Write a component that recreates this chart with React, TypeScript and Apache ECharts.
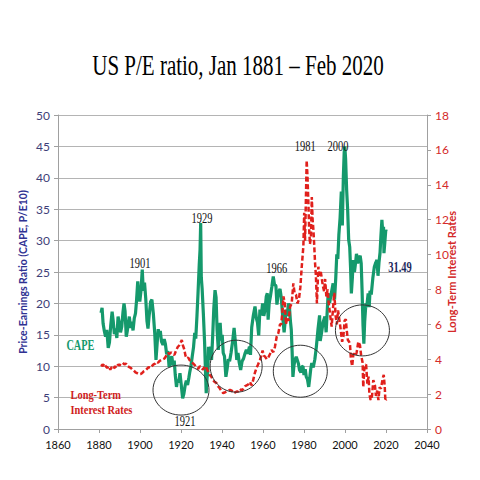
import React, { useEffect, useRef } from "react";
import * as echarts from "echarts";

// Shiller CAPE
const CAPE_YEARS = [
  1881.0, 1881.5, 1882.0, 1882.6, 1883.2, 1883.8, 1884.5, 1885.1, 1885.7, 1886.4, 1886.9, 1887.5, 1888.1, 1888.7, 1889.3, 1889.9,
  1890.5, 1891.1, 1891.7, 1892.2, 1892.7, 1893.3, 1893.8, 1894.3, 1894.8, 1895.4, 1896.0, 1896.6, 1897.2, 1897.8, 1898.3, 1898.9,
  1899.4, 1899.9, 1900.5, 1901.1, 1901.6, 1902.2, 1902.8, 1903.4, 1903.9, 1904.5, 1905.2, 1905.8, 1906.5, 1907.2, 1907.8, 1908.4,
  1908.9, 1909.4, 1909.9, 1910.5, 1911.2, 1911.8, 1912.4, 1913.0, 1913.6, 1914.2, 1914.9, 1915.5, 1916.1, 1916.7, 1917.2, 1917.8,
  1918.3, 1918.9, 1919.5, 1920.1, 1920.8, 1921.4, 1922.0, 1922.6, 1923.2, 1923.8, 1924.3, 1924.9, 1925.5, 1926.1, 1926.7, 1927.2,
  1927.8, 1928.3, 1928.9, 1929.3, 1929.6, 1929.9, 1930.3, 1930.9, 1931.5, 1931.9, 1932.3, 1932.7, 1933.1, 1933.4, 1933.9, 1934.4,
  1934.9, 1935.5, 1936.0, 1936.6, 1937.1, 1937.6, 1938.2, 1938.7, 1939.1, 1939.6, 1940.1, 1940.6, 1941.2, 1941.9, 1942.5, 1943.1,
  1943.7, 1944.4, 1945.2, 1945.9, 1946.5, 1947.2, 1947.8, 1948.4, 1949.1, 1949.8, 1950.5, 1951.2, 1951.9, 1952.6, 1953.4, 1953.9,
  1954.5, 1955.3, 1956.1, 1956.8, 1957.3, 1957.9, 1958.5, 1959.2, 1959.8, 1960.4, 1961.0, 1961.6, 1962.1, 1962.5, 1963.0, 1963.6,
  1964.3, 1965.0, 1965.6, 1966.3, 1966.8, 1967.5, 1968.3, 1968.9, 1969.6, 1970.3, 1970.8, 1971.3, 1971.8, 1972.4, 1972.9, 1973.4,
  1973.8, 1974.2, 1974.6, 1975.1, 1975.6, 1976.2, 1976.8, 1977.3, 1977.8, 1978.5, 1979.0, 1979.5, 1980.0, 1980.6, 1981.1, 1981.7,
  1982.3, 1982.8, 1983.3, 1983.8, 1984.5, 1985.3, 1986.0, 1986.8, 1987.6, 1987.9, 1988.6, 1989.3, 1990.2, 1990.8, 1991.3, 1991.8,
  1992.5, 1993.2, 1994.2, 1994.9, 1995.5, 1996.0, 1996.5, 1997.0, 1997.6, 1998.2, 1998.7, 1999.2, 1999.6, 1999.9, 2000.3, 2000.8,
  2001.3, 2001.8, 2002.3, 2002.7, 2003.1, 2003.6, 2004.0, 2004.6, 2005.2, 2005.6, 2006.2, 2006.8, 2007.4, 2007.9, 2008.3, 2008.8,
  2009.2, 2009.6, 2010.2, 2010.6, 2011.3, 2011.8, 2012.2, 2012.8, 2013.6, 2014.3, 2015.0, 2015.6, 2016.1, 2016.6, 2017.1, 2017.5,
  2018.0, 2018.4, 2018.8, 2019.0, 2019.4, 2019.9, 2020.1,
];
const CAPE_VALUES = [
  18.5, 19.3, 16.8, 15.6, 14.7, 15.8, 12.9, 13.8, 16.4, 18.7, 17.3, 15.1, 16.0, 14.5, 17.9, 16.9,
  15.4, 16.3, 18.6, 20.0, 18.8, 14.7, 15.6, 16.9, 17.9, 16.1, 17.1, 15.7, 17.6, 18.4, 20.4, 23.5,
  21.2, 20.3, 22.1, 25.4, 22.0, 23.3, 20.8, 17.2, 16.0, 18.2, 20.3, 20.6, 18.4, 15.2, 11.0, 13.8,
  15.9, 14.8, 15.6, 13.9, 13.4, 14.3, 13.5, 11.9, 12.4, 9.9, 10.6, 11.6, 10.1, 10.9, 8.6, 6.7,
  7.8, 7.4, 8.9, 7.1, 4.9, 5.6, 6.9, 7.7, 7.0, 8.1, 9.1, 10.1, 11.6, 13.0, 15.3, 14.4,
  18.1, 21.6, 26.2, 28.6, 32.8, 24.1, 22.4, 18.4, 13.9, 9.6, 5.7, 8.1, 9.2, 13.1, 11.0, 13.1,
  11.0, 15.1, 19.2, 22.1, 21.0, 15.8, 12.6, 15.2, 16.9, 14.1, 15.0, 12.1, 11.6, 8.3, 9.6, 11.1,
  10.8, 12.1, 14.0, 16.1, 13.9, 11.0, 12.1, 10.6, 9.4, 10.8, 11.2, 12.0, 12.6, 12.0, 13.1, 11.8,
  16.2, 18.1, 19.5, 17.6, 17.0, 14.9, 19.0, 18.1, 20.0, 18.0, 19.0, 21.1, 21.6, 17.4, 20.0, 21.1,
  22.6, 24.3, 23.0, 22.8, 19.8, 21.7, 22.3, 21.0, 17.9, 15.4, 17.1, 19.0, 18.0, 20.0, 19.4, 17.1,
  15.8, 12.4, 8.3, 10.1, 11.0, 11.5, 10.9, 10.4, 9.4, 9.0, 9.9, 10.0, 8.6, 9.5, 8.3, 7.9,
  6.7, 8.1, 9.6, 10.5, 9.8, 11.1, 13.0, 15.8, 18.1, 14.0, 15.4, 17.0, 17.9, 15.4, 18.6, 21.6,
  20.1, 21.4, 23.2, 20.6, 24.1, 27.8, 27.1, 30.9, 33.6, 37.8, 32.4, 40.2, 44.0, 45.0, 43.0, 38.1,
  34.9, 30.1, 29.0, 25.8, 21.6, 24.1, 26.9, 25.0, 26.6, 27.9, 26.4, 27.1, 27.6, 26.4, 22.4, 16.4,
  13.6, 17.1, 20.0, 19.4, 21.6, 19.4, 22.0, 21.4, 24.1, 25.8, 26.5, 26.9, 24.4, 26.6, 28.1, 30.6,
  33.3, 31.4, 32.2, 28.0, 29.6, 31.7, 31.5,
];

// Long-term interest rates
const RATE_YEARS = [
  1881.0, 1881.8, 1882.5, 1883.3, 1884.0, 1884.8, 1885.5, 1886.2, 1887.0, 1887.8, 1888.5, 1889.3, 1890.0, 1890.8, 1891.6, 1892.4,
  1893.2, 1894.0, 1894.8, 1895.5, 1896.3, 1897.0, 1897.8, 1898.6, 1899.4, 1900.2, 1901.0, 1901.8, 1902.6, 1903.4, 1904.2, 1905.0,
  1905.8, 1906.6, 1907.4, 1908.0, 1908.8, 1909.6, 1910.4, 1911.2, 1912.0, 1912.8, 1913.6, 1914.4, 1915.2, 1916.0, 1916.8, 1917.6,
  1918.4, 1919.2, 1920.0, 1920.4, 1920.9, 1921.5, 1922.2, 1922.8, 1923.5, 1924.2, 1925.0, 1925.9, 1926.8, 1927.6, 1928.4, 1929.2,
  1930.0, 1930.8, 1931.6, 1932.4, 1933.2, 1934.0, 1934.8, 1935.6, 1936.4, 1937.2, 1938.0, 1938.8, 1939.6, 1940.6, 1941.4, 1942.2,
  1943.0, 1943.9, 1944.8, 1945.6, 1946.4, 1947.2, 1947.9, 1948.8, 1949.6, 1950.4, 1951.2, 1952.0, 1952.8, 1953.6, 1954.5, 1955.2,
  1956.0, 1956.8, 1957.6, 1958.5, 1959.2, 1959.8, 1960.5, 1961.0, 1961.8, 1962.6, 1963.4, 1964.2, 1965.0, 1965.8, 1966.7, 1967.5,
  1968.3, 1968.9, 1969.5, 1970.0, 1970.6, 1971.2, 1971.8, 1972.5, 1973.2, 1974.0, 1974.8, 1975.4, 1976.1, 1976.8, 1977.5, 1978.2,
  1978.9, 1979.7, 1980.1, 1980.5, 1980.9, 1981.3, 1981.7, 1982.1, 1982.5, 1982.9, 1983.4, 1983.8, 1984.2, 1984.6, 1985.0, 1985.4,
  1985.8, 1986.3, 1987.0, 1987.6, 1988.2, 1988.6, 1989.2, 1989.8, 1990.3, 1990.9, 1991.5, 1991.9, 1992.5, 1993.0, 1993.5, 1994.2,
  1994.8, 1995.4, 1996.0, 1996.6, 1997.2, 1997.8, 1998.6, 1999.2, 1999.8, 2000.4, 2000.8, 2001.4, 2002.0, 2002.4, 2002.9, 2003.5,
  2004.1, 2004.6, 2005.2, 2005.7, 2006.5, 2007.3, 2007.9, 2008.6, 2008.9, 2009.5, 2010.3, 2010.9, 2011.5, 2011.9, 2012.5, 2013.2,
  2013.8, 2014.6, 2015.1, 2015.7, 2016.3, 2016.9, 2017.5, 2018.4, 2018.9, 2019.4, 2019.7, 2020.1,
];
const RATE_VALUES = [
  3.7, 3.6, 3.75, 3.6, 3.5, 3.6, 3.4, 3.55, 3.45, 3.6, 3.5, 3.7, 3.65, 3.75, 3.8, 3.7,
  3.75, 3.6, 3.55, 3.5, 3.4, 3.35, 3.25, 3.2, 3.15, 3.15, 3.2, 3.3, 3.35, 3.45, 3.55, 3.5,
  3.6, 3.7, 3.75, 3.85, 3.8, 3.9, 3.95, 4.0, 4.05, 4.2, 4.35, 4.3, 4.4, 4.3, 4.25, 4.5,
  4.7, 4.8, 5.0, 5.1, 4.8, 4.6, 4.2, 4.05, 4.1, 3.95, 3.85, 3.76, 3.65, 3.5, 3.45, 3.6,
  3.5, 3.4, 3.6, 3.5, 3.3, 3.1, 3.0, 2.8, 2.7, 2.65, 2.45, 2.35, 2.2, 2.05, 2.1, 2.15,
  2.2, 2.24, 2.2, 2.05, 2.1, 2.15, 2.15, 2.3, 2.2, 2.3, 2.45, 2.5, 2.55, 2.7, 2.5, 2.8,
  3.2, 3.5, 3.7, 3.96, 4.2, 4.5, 4.2, 4.15, 4.0, 4.1, 4.3, 4.53, 4.4, 4.7, 5.3, 5.5,
  6.0, 6.0, 6.8, 7.6, 7.2, 6.0, 6.4, 6.2, 7.0, 7.2, 8.35, 7.8, 7.7, 7.2, 7.4, 8.1,
  9.3, 10.5, 12.4, 10.8, 13.0, 15.4, 14.5, 13.1, 11.5, 10.6, 11.0, 13.3, 12.0, 11.4, 10.5, 9.5,
  8.8, 7.2, 9.3, 8.8, 9.0, 8.7, 8.2, 7.9, 8.6, 7.6, 8.0, 7.4, 6.8, 6.3, 5.87, 7.0,
  7.8, 6.5, 6.0, 6.8, 6.3, 5.8, 5.0, 5.3, 6.2, 6.3, 5.7, 5.1, 5.0, 4.9, 4.0, 3.6,
  4.3, 4.3, 4.2, 4.4, 5.0, 4.8, 4.2, 3.8, 2.4, 3.6, 3.7, 2.6, 3.0, 2.0, 1.66, 1.9,
  2.8, 2.5, 1.9, 2.2, 1.66, 2.4, 2.3, 2.9, 3.1, 2.4, 1.6, 1.7,
];

// Annotations (data coordinates on the left axis)
const NOTE_TEXTS = ["1901", "1929", "1921", "1966", "1981", "2000", "31.49"];
const NOTE_YEARS = [1900.0, 1930.3, 1922.0, 1966.7, 1980.6, 1996.6, 2026.8];
const NOTE_VALUES = [26.4, 33.7, 1.3, 25.7, 45.1, 45.1, 25.8];

const LEGEND_TEXTS = ["CAPE", "Long-Term", "Interest Rates"];
const LEGEND_YEARS = [1864.1, 1866.1, 1866.1];
const LEGEND_VALUES = [13.24, 5.38, 2.99];

const CIRCLE_YEARS = [1920.0, 1946.9, 1978.2, 2008.5];
const CIRCLE_VALUES = [6.2, 10.0, 9.2, 15.7];
const CIRCLE_RADII = [
  [28, 25],
  [26, 26],
  [27, 26],
  [27, 25.5],
];

const GREEN = "#15996c";
const RED = "#e0201c";

function zip(a: number[], b: number[]) {
  return a.map((v, i) => [v, b[i]]);
}

export default function App() {
  const ref = useRef<HTMLDivElement>(null);

  useEffect(() => {
    if (!ref.current) return;
    const chart = echarts.init(ref.current, undefined, { renderer: "svg" });
    const axisFont = "Lato";
    chart.setOption({
      animation: false,
      backgroundColor: "#fff",
      grid: { left: 58, right: 53, top: 115, bottom: 51 },
      graphic: [
        {
          type: "text",
          x: 238,
          y: 65,
          scaleX: 0.7,
          style: {
            text: "US P/E ratio, Jan 1881 \u2013 Feb 2020",
            font: '30px "Liberation Serif"',
            fill: "#000",
            align: "center",
            verticalAlign: "middle",
          },
        },
      ],
      xAxis: {
        type: "value",
        min: 1860,
        max: 2040,
        interval: 20,
        axisLine: { show: true, lineStyle: { color: "#a0a0a0", width: 1 } },
        axisTick: { show: true, length: 4, lineStyle: { color: "#a0a0a0" } },
        axisLabel: {
          color: "#111",
          fontFamily: axisFont,
          fontSize: 11,
          margin: 10,
          formatter: (v: number) => String(v),
        },
        splitLine: { show: false },
      },
      yAxis: [
        {
          type: "value",
          min: 0,
          max: 50,
          interval: 5,
          position: "left",
          name: "Price-Earnings Ratio (CAPE, P/E10)",
          nameLocation: "middle",
          nameRotate: 90,
          nameGap: 30,
          nameMoveOverlap: false,
          nameTextStyle: { color: "#2f3192", fontFamily: axisFont, fontWeight: "bold", fontSize: 10.5 },
          axisLine: { show: true, lineStyle: { color: "#a0a0a0" } },
          axisTick: { show: true, length: 4, lineStyle: { color: "#a0a0a0" } },
          axisLabel: { color: "#3e3e78", fontFamily: axisFont, fontSize: 12, margin: 8 },
          splitLine: { show: true, lineStyle: { color: "#b4b4b4", width: 1.2 } },
        },
        {
          type: "value",
          min: 0,
          max: 18,
          interval: 2,
          position: "right",
          name: "Long-Term Interest Rates",
          nameLocation: "middle",
          nameRotate: 90,
          nameGap: 19,
          nameMoveOverlap: false,
          nameTextStyle: { color: "#d42a2a", fontFamily: axisFont, fontWeight: "bold", fontSize: 11 },
          axisLine: { show: true, lineStyle: { color: "#a0a0a0" } },
          axisTick: { show: true, length: 4, lineStyle: { color: "#a0a0a0" } },
          axisLabel: { color: "#d42a2a", fontFamily: axisFont, fontSize: 12, margin: 8 },
          splitLine: { show: false },
        },
      ],
      series: [
        {
          name: "CAPE",
          type: "line",
          yAxisIndex: 0,
          data: zip(CAPE_YEARS, CAPE_VALUES),
          showSymbol: false,
          symbol: "none",
          lineStyle: { color: GREEN, width: 3.2 },
          z: 3,
        },
        {
          name: "Long-Term Interest Rates",
          type: "line",
          yAxisIndex: 1,
          data: zip(RATE_YEARS, RATE_VALUES),
          showSymbol: false,
          symbol: "none",
          lineStyle: { color: RED, width: 2.5, type: [5, 2.5] },
          z: 4,
        },
        {
          type: "custom",
          yAxisIndex: 0,
          clip: false,
          silent: true,
          z: 6,
          data: zip(CIRCLE_YEARS, CIRCLE_VALUES),
          renderItem: (params: any, api: any) => {
            const p = api.coord([api.value(0), api.value(1)]);
            const r = CIRCLE_RADII[params.dataIndex];
            return {
              type: "ellipse",
              shape: { cx: p[0], cy: p[1], rx: r[0], ry: r[1] },
              style: { fill: "none", stroke: "#333", lineWidth: 1 },
            };
          },
        },
        {
          type: "custom",
          yAxisIndex: 0,
          clip: false,
          silent: true,
          z: 7,
          data: zip(NOTE_YEARS, NOTE_VALUES),
          renderItem: (params: any, api: any) => {
            const p = api.coord([api.value(0), api.value(1)]);
            const i = params.dataIndex;
            const isValue = NOTE_TEXTS[i] === "31.49";
            return {
              type: "text",
              x: p[0],
              y: p[1],
              scaleX: isValue ? 0.75 : 0.7,
              style: {
                text: NOTE_TEXTS[i],
                font: isValue ? 'bold 14px "Liberation Serif"' : '15px "Liberation Serif"',
                fill: isValue ? "#1e2a5e" : "#111",
                align: "center",
                verticalAlign: "middle",
              },
            };
          },
        },
        {
          type: "custom",
          yAxisIndex: 0,
          clip: false,
          silent: true,
          z: 7,
          data: zip(LEGEND_YEARS, LEGEND_VALUES),
          renderItem: (params: any, api: any) => {
            const p = api.coord([api.value(0), api.value(1)]);
            const i = params.dataIndex;
            const isCape = i === 0;
            return {
              type: "text",
              x: p[0],
              y: p[1],
              scaleX: isCape ? 0.71 : 0.8,
              style: {
                text: LEGEND_TEXTS[i],
                font: isCape ? 'bold 14.5px "Liberation Serif"' : 'bold 13px "Liberation Serif"',
                fill: isCape ? GREEN : "#d01c1c",
                align: "left",
                verticalAlign: "middle",
              },
            };
          },
        },
      ],
    });
    return () => chart.dispose();
  }, []);

  return (
    <div
      ref={ref}
      style={{ position: "fixed", left: 0, top: 0, width: 480, height: 480, background: "#fff" }}
    />
  );
}
